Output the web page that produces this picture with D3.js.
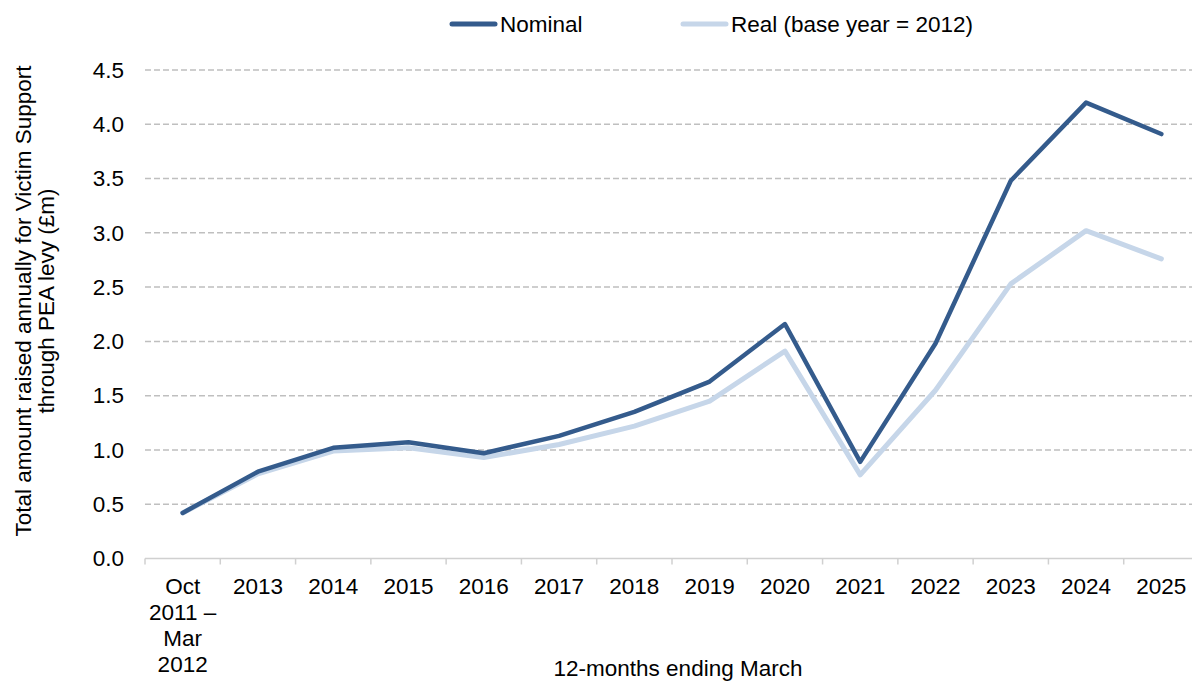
<!DOCTYPE html>
<html>
<head>
<meta charset="utf-8">
<script src="https://cdn.jsdelivr.net/npm/d3@7"></script>
<style>
  body { margin: 0; background: #fff; }
  svg { font-family: "Liberation Sans", Arial, sans-serif; }
</style>
</head>
<body>
<svg id="chart" width="1192" height="681"></svg>
<script>
const categories = [["Oct", "2011 \u2013", "Mar", "2012"], ["2013"], ["2014"], ["2015"], ["2016"], ["2017"],
  ["2018"], ["2019"], ["2020"], ["2021"], ["2022"], ["2023"], ["2024"], ["2025"]];
const nominal = [0.42, 0.80, 1.02, 1.07, 0.97, 1.13, 1.35, 1.63, 2.16, 0.89, 1.98, 3.48, 4.20, 3.91];
const real = [0.42, 0.78, 0.99, 1.02, 0.93, 1.05, 1.22, 1.45, 1.91, 0.77, 1.55, 2.53, 3.02, 2.76];
const yTicks = [0, 0.5, 1, 1.5, 2, 2.5, 3, 3.5, 4, 4.5];

const nominalColor = "#345b8c";
const realColor = "#c6d6e9";
const fs = 22.5;

const svg = d3.select("#chart");
const plotLeft = 145, plotRight = 1199, plotTop = 70, plotBottom = 558.5;

const x = d3.scaleBand()
    .domain(d3.range(categories.length))
    .range([plotLeft, plotRight]);

const y = d3.scaleLinear()
    .domain([0, 4.5])
    .range([plotBottom, plotTop]);

// gridlines
svg.append("g")
    .selectAll("line")
    .data(yTicks.filter(d => d > 0))
    .enter().append("line")
    .attr("x1", plotLeft).attr("x2", 1192)
    .attr("y1", d => y(d)).attr("y2", d => y(d))
    .attr("stroke", "#bfbfbf")
    .attr("stroke-width", 1.5)
    .attr("stroke-dasharray", "6,3");

// y axis labels
const yAxis = d3.axisLeft(y).tickValues(yTicks).tickFormat(d3.format(".1f")).tickSize(0).tickPadding(21);
const yg = svg.append("g").attr("transform", "translate(" + plotLeft + ",0)").call(yAxis);
yg.select(".domain").remove();
yg.selectAll("text").attr("font-size", fs).attr("fill", "#000").attr("font-family", "Liberation Sans, Arial, sans-serif");

// x axis
const xg = svg.append("g").attr("transform", "translate(0," + plotBottom + ")");
xg.append("line")
    .attr("x1", plotLeft).attr("x2", 1192)
    .attr("stroke", "#d0d0d0").attr("stroke-width", 1.5);
xg.selectAll(".tick")
    .data(d3.range(categories.length + 1))
    .enter().append("line")
    .attr("x1", d => plotLeft + d * x.step()).attr("x2", d => plotLeft + d * x.step())
    .attr("y1", 0).attr("y2", 6)
    .attr("stroke", "#d0d0d0").attr("stroke-width", 1.5);

const labels = xg.selectAll(".lab")
    .data(categories)
    .enter().append("text")
    .attr("text-anchor", "middle")
    .attr("font-size", fs)
    .attr("fill", "#000")
    .attr("transform", (d, i) => "translate(" + (x(i) + x.bandwidth() / 2) + ",0)");
labels.selectAll("tspan")
    .data(d => d)
    .enter().append("tspan")
    .attr("x", 0)
    .attr("y", (d, j) => 35 + j * 26.2)
    .text(d => d);

// axis titles
svg.append("text")
    .attr("x", 678).attr("y", 676)
    .attr("text-anchor", "middle")
    .attr("font-size", fs)
    .text("12-months ending March");

const yt = svg.append("text")
    .attr("transform", "translate(31,301) rotate(-90)")
    .attr("text-anchor", "middle")
    .attr("font-size", fs);
yt.append("tspan").attr("x", 0).attr("y", 0).text("Total amount raised annually for Victim Support");
yt.append("tspan").attr("x", 0).attr("y", 23).text("through PEA levy (\u00a3m)");

// lines
const line = d3.line()
    .x((d, i) => x(i) + x.bandwidth() / 2)
    .y(d => y(d));

svg.append("path")
    .datum(real)
    .attr("d", line)
    .attr("fill", "none")
    .attr("stroke", realColor)
    .attr("stroke-width", 5)
    .attr("stroke-linejoin", "round")
    .attr("stroke-linecap", "round");

svg.append("path")
    .datum(nominal)
    .attr("d", line)
    .attr("fill", "none")
    .attr("stroke", nominalColor)
    .attr("stroke-width", 4.5)
    .attr("stroke-linejoin", "round")
    .attr("stroke-linecap", "round");

// legend
const legend = [
  { name: "Nominal", color: nominalColor, x: 452 },
  { name: "Real (base year = 2012)", color: realColor, x: 683 }
];
const lg = svg.append("g").selectAll("g").data(legend).enter().append("g")
    .attr("transform", d => "translate(" + d.x + ",24)");
lg.append("line")
    .attr("x1", 0).attr("x2", 43)
    .attr("stroke", d => d.color)
    .attr("stroke-width", 5)
    .attr("stroke-linecap", "round");
lg.append("text")
    .attr("x", 48).attr("y", 7.5)
    .attr("font-size", fs)
    .text(d => d.name);
</script>
</body>
</html>
